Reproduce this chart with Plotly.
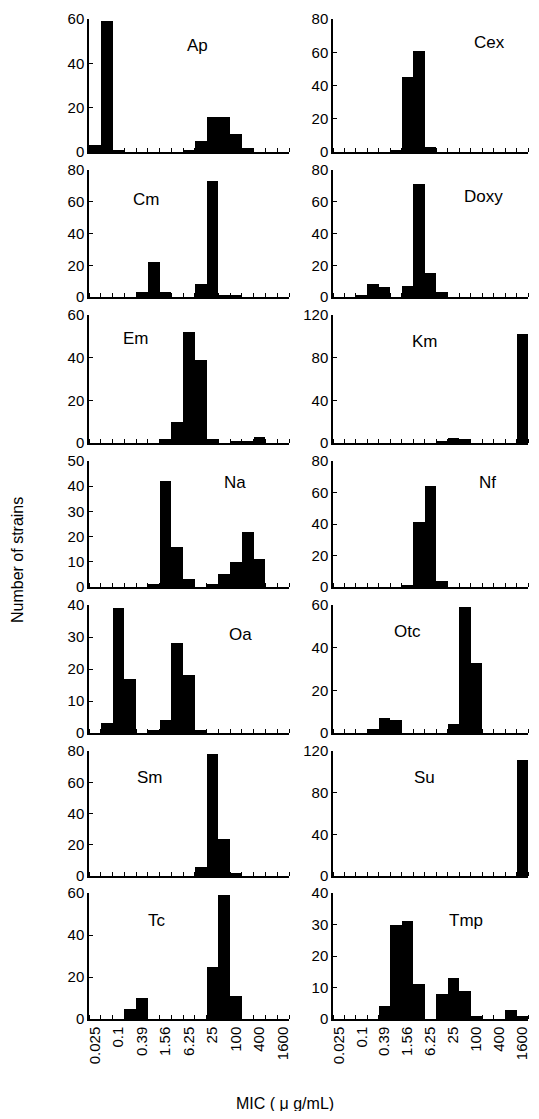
import plotly.graph_objects as go

# ---------------- data ----------------
mic = ["0.025", "0.05", "0.1", "0.2", "0.39", "0.78", "1.56", "3.13", "6.25",
       "12.5", "25", "50", "100", "200", "400", "800", "1600"]

ap   = [3, 59, 1, 0, 0, 0, 0, 0, 1, 5, 16, 16, 8, 2, 0, 0, 0]
cex  = [0, 0, 0, 0, 0, 1, 45, 61, 3, 0, 0, 0, 0, 0, 0, 0, 0]
cm   = [0, 0, 0, 0, 3, 22, 3, 0, 0, 8, 73, 1, 1, 0, 0, 0, 0]
doxy = [0, 0, 1, 8, 6, 0, 7, 71, 15, 3, 0, 0, 0, 0, 0, 0, 0]
em   = [0, 0, 0, 0, 0, 0, 2, 10, 52, 39, 2, 0, 1, 1, 3, 0, 0]
km   = [0, 0, 0, 0, 0, 0, 0, 0, 0, 1, 5, 4, 0, 0, 0, 0, 102]
na   = [0, 0, 0, 0, 0, 1, 42, 16, 3, 0, 1, 5, 10, 22, 11, 0, 0]
nf   = [0, 0, 0, 0, 0, 0, 1, 41, 64, 4, 0, 0, 0, 0, 0, 0, 0]
oa   = [0, 3, 39, 17, 0, 1, 4, 28, 18, 1, 0, 0, 0, 0, 0, 0, 0]
otc  = [0, 0, 0, 2, 7, 6, 0, 0, 0, 0, 4, 59, 33, 0, 0, 0, 0]
sm   = [0, 0, 0, 0, 0, 0, 0, 0, 0, 6, 78, 24, 2, 0, 0, 0, 0]
su   = [0, 0, 0, 0, 0, 0, 0, 0, 0, 0, 0, 0, 0, 0, 0, 0, 111]
tc   = [0, 0, 0, 5, 10, 0, 0, 0, 0, 0, 25, 59, 11, 0, 0, 0, 0]
tmp  = [0, 0, 0, 0, 4, 30, 31, 11, 0, 8, 13, 9, 1, 0, 0, 3, 1]

names = ["Ap", "Cex", "Cm", "Doxy", "Em", "Km", "Na", "Nf",
         "Oa", "Otc", "Sm", "Su", "Tc", "Tmp"]
series = [ap, cex, cm, doxy, em, km, na, nf, oa, otc, sm, su, tc, tmp]
ymax = [60, 80, 80, 80, 60, 120, 50, 80, 40, 60, 80, 120, 60, 40]
ydtick = [20, 20, 20, 20, 20, 40, 10, 20, 10, 20, 20, 40, 20, 10]

# ---------------- layout / styling ----------------
PAGE_W, PAGE_H = 539, 1119
BODY = 8                       # default page body margin
W, H = PAGE_W - 2 * BODY, PAGE_H - 2 * BODY
FONT = "Liberation Sans, Arial, Helvetica, sans-serif"


def fx(px):
    return (px - BODY) / W


def fy(py):
    return 1 - (py - BODY) / H


label_pos = [(0.54, 0.80), (0.80, 0.82), (0.285, 0.77), (0.77, 0.79),
             (0.235, 0.82), (0.47, 0.79), (0.73, 0.83), (0.79, 0.83),
             (0.755, 0.77), (0.38, 0.79), (0.305, 0.79), (0.47, 0.79),
             (0.34, 0.78), (0.68, 0.78)]

col_px = [(89, 289), (333, 528)]
row_top = [19, 170, 315, 461, 605, 751, 893]
row_bot = [152, 297, 443, 587, 733, 876, 1019]

fig = go.Figure()
layout = dict(
    template="none",
    width=W, height=H,
    margin=dict(l=0, r=0, t=0, b=0, autoexpand=False),
    paper_bgcolor="white", plot_bgcolor="white",
    showlegend=False, bargap=0,
    font=dict(family=FONT, color="black"),
)

xidx = list(range(len(mic)))
annotations = []
for p, (name, vals) in enumerate(zip(names, series)):
    r, c = divmod(p, 2)
    n = p + 1
    xa = "x" if n == 1 else f"x{n}"
    ya = "y" if n == 1 else f"y{n}"
    fig.add_trace(go.Bar(
        x=xidx, y=vals, width=1.0,
        marker=dict(color="black", line=dict(width=0)),
        xaxis=xa, yaxis=ya, hoverinfo="skip",
    ))
    x0, x1 = col_px[c]
    bottom_row = (r == 6)
    layout["xaxis" if n == 1 else f"xaxis{n}"] = dict(
        domain=[fx(x0), min(1.0, fx(x1))], anchor=ya, range=[-0.5, len(mic) - 0.5],
        automargin=False, showgrid=False, zeroline=False,
        showline=True, linecolor="black", linewidth=1.5,
        tickmode="array", tickvals=xidx[::2], ticktext=mic[::2],
        ticks="", showticklabels=bottom_row, tickangle=-90,
        ticklabeloverflow="allow",
        tickfont=dict(size=15, family=FONT, color="black"),
        minor=dict(tickmode="array",
                   tickvals=[k - 0.5 for k in range(len(mic) + 1)],
                   ticks="inside", ticklen=4, tickwidth=1, tickcolor="black",
                   showgrid=False),
    )
    layout["yaxis" if n == 1 else f"yaxis{n}"] = dict(
        domain=[fy(row_bot[r]), fy(row_top[r])], anchor=xa, range=[0, ymax[p]],
        automargin=False, tickmode="linear", tick0=0, dtick=ydtick[p],
        showgrid=False, zeroline=False,
        showline=True, linecolor="black", linewidth=1.5,
        ticks="inside", ticklen=4, tickwidth=1, tickcolor="black",
        tickfont=dict(size=15, family=FONT, color="black"),
    )
    lx, ly = label_pos[p]
    annotations.append(dict(
        text=name, x=lx, y=ly, xref=f"{xa} domain", yref=f"{ya} domain",
        showarrow=False, xanchor="center", yanchor="middle",
        font=dict(size=17, family=FONT, color="black"),
    ))

annotations.append(dict(
    text="Number of strains", x=fx(17), y=fy(560), xref="paper", yref="paper",
    textangle=-90, showarrow=False, xanchor="center", yanchor="middle",
    font=dict(size=16, family=FONT, color="black"),
))
annotations.append(dict(
    text="MIC ( \u03bc g/mL)", x=fx(285), y=fy(1103), xref="paper", yref="paper",
    showarrow=False, xanchor="center", yanchor="middle",
    font=dict(size=16, family=FONT, color="black"),
))
layout["annotations"] = annotations
fig.update_layout(**layout)
fig.write_html("out.html")
